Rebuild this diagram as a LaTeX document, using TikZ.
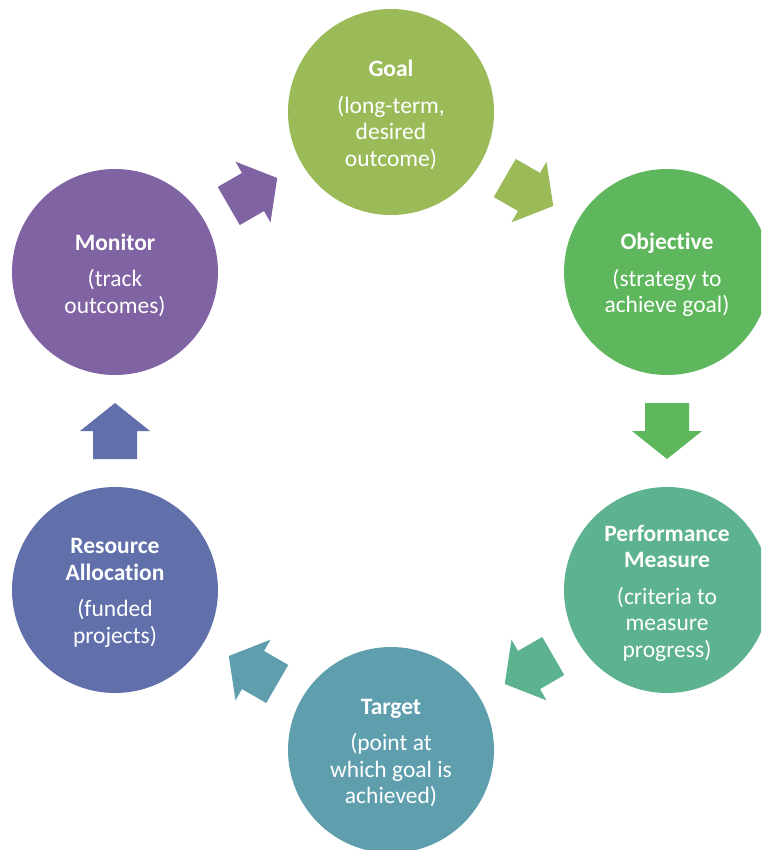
\documentclass[tikz,border=0pt]{standalone}
\usepackage{fontspec}
\setmainfont[Ligatures=NoCommon]{Carlito}
\usetikzlibrary{calc}
\definecolor{goalc}{HTML}{9BBB59}
\definecolor{objc}{HTML}{5EB75C}
\definecolor{pmc}{HTML}{5DB28F}
\definecolor{targetc}{HTML}{5F9EAD}
\definecolor{resc}{HTML}{6170AB}
\definecolor{monc}{HTML}{7F63A2}
\tikzset{
  stage/.style={circle, minimum size=206pt, inner sep=0pt, draw=none},
  txt/.style={text=white, align=center, font=\fontsize{23.5}{26.5}\selectfont, yshift=-3pt},
  blockarrow/.pic={\fill (-28,-22) -- (0,-22) -- (0,-35) -- (28,0) -- (0,35) -- (0,22) -- (-28,22) -- cycle;}
}
\begin{document}
\begin{tikzpicture}[x=1pt,y=-1pt]
\useasboundingbox (0,0) rectangle (761,850);
\clip (0,0) rectangle (761,850);
\fill[white] (0,0) rectangle (761,850);
% circles
\node[stage, fill=goalc]   (goal)   at (391,112) {};
\node[stage, fill=objc]    (obj)    at (667,272) {};
\node[stage, fill=pmc]     (pm)     at (667,590) {};
\node[stage, fill=targetc] (target) at (391,750) {};
\node[stage, fill=resc]    (res)    at (115,590) {};
\node[stage, fill=monc]    (mon)    at (115,272) {};
% texts
\node[txt] (goaltxt) at (goal) {\textbf{Goal}\\[10pt](long-term,\\desired\\outcome)};
\node[txt] (objtxt) at (obj) {\textbf{Objective}\\[10pt](strategy to\\achieve goal)};
\node[txt] (pmtxt) at (pm) {\textbf{Performance}\\\textbf{Measure}\\[10pt](criteria to\\measure\\progress)};
\node[txt] (targettxt) at (target) {\textbf{Target}\\[10pt](point at\\which goal is\\achieved)};
\node[txt] (restxt) at (res) {\textbf{Resource}\\\textbf{Allocation}\\[10pt](funded\\projects)};
\node[txt] (montxt) at (mon) {\textbf{Monitor}\\[10pt](track\\outcomes)};
% block arrows (x=1pt, y=-1pt: canvas angles)
\path ($(goal)!0.5!(obj)$) pic[goalc, rotate=-30] {blockarrow};
\path ($(obj)!0.5!(pm)$) pic[objc, rotate=-90] {blockarrow};
\path ($(pm)!0.5!(target)$) pic[pmc, rotate=-150] {blockarrow};
\path ($(target)!0.5!(res)$) pic[targetc, rotate=150] {blockarrow};
\path ($(res)!0.5!(mon)$) pic[resc, rotate=90] {blockarrow};
\path ($(mon)!0.5!(goal)$) pic[monc, rotate=30] {blockarrow};
\end{tikzpicture}
\end{document}
